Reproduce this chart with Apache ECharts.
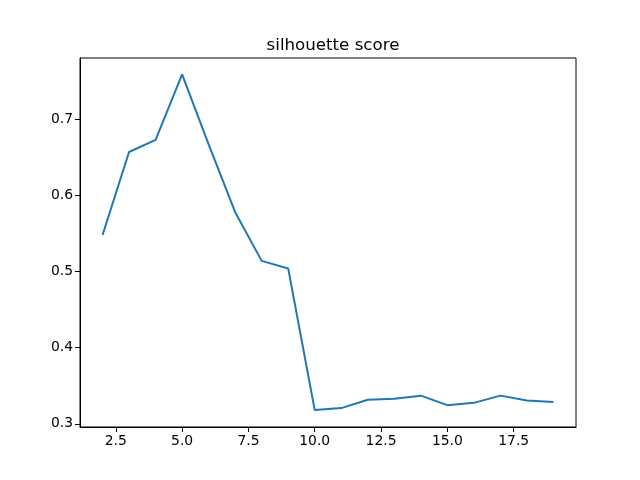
<!DOCTYPE html>
<html>
<head>
<meta charset="utf-8">
<script src="https://cdn.jsdelivr.net/npm/echarts@6/dist/echarts.min.js"></script>
<style>
  html, body { margin: 0; padding: 0; background: #fff; }
  #main { width: 640px; height: 480px; }
</style>
</head>
<body>
<div id="main"></div>
<script>
// cluster counts and silhouette scores
var clusters = [2, 3, 4, 5, 6, 7, 8, 9, 10, 11, 12, 13, 14, 15, 16, 17, 18, 19];
var scores = [0.548, 0.657, 0.673, 0.759, 0.667, 0.578, 0.514, 0.504, 0.318, 0.3206,
              0.3315, 0.333, 0.337, 0.3245, 0.3275, 0.337, 0.3305, 0.3285];
var xTicks = [2.5, 5.0, 7.5, 10.0, 12.5, 15.0, 17.5];
var yTicks = [0.3, 0.4, 0.5, 0.6, 0.7];

var font = 'DejaVu Sans';

echarts.init(document.getElementById('main')).setOption({
    animation: false,
    title: {
        text: 'silhouette score',
        left: 328,
        textAlign: 'center',
        top: 32,
        textStyle: { fontFamily: font, fontSize: 16.67, fontWeight: 'normal', color: '#000' }
    },
    grid: {
        left: 80, right: 64, top: 58, bottom: 53,
        show: true, borderColor: '#000', borderWidth: 1
    },
    xAxis: {
        type: 'value',
        min: 1.15,
        max: 19.85,
        splitLine: { show: false },
        axisLine: { lineStyle: { color: '#000', width: 1 } },
        axisTick: { length: 5, inside: false, customValues: xTicks, lineStyle: { color: '#000' } },
        axisLabel: {
            customValues: xTicks,
            fontFamily: font, fontSize: 13.9, color: '#000', margin: 7,
            formatter: function (v) { return v.toFixed(1); }
        }
    },
    yAxis: {
        type: 'value',
        min: 0.2958,
        max: 0.7805,
        splitLine: { show: false },
        axisLine: { show: true, lineStyle: { color: '#000', width: 1 } },
        axisTick: { show: true, length: 5, customValues: yTicks, lineStyle: { color: '#000' } },
        axisLabel: {
            customValues: yTicks,
            fontFamily: font, fontSize: 13.9, color: '#000', margin: 7,
            formatter: function (v) { return v.toFixed(1); }
        }
    },
    series: [
        {
            type: 'line',
            data: clusters.map(function (c, i) { return [c, scores[i]]; }),
            showSymbol: false,
            lineStyle: { color: '#1f77b4', width: 2 },
            itemStyle: { color: '#1f77b4' }
        }
    ]
});
</script>
</body>
</html>
